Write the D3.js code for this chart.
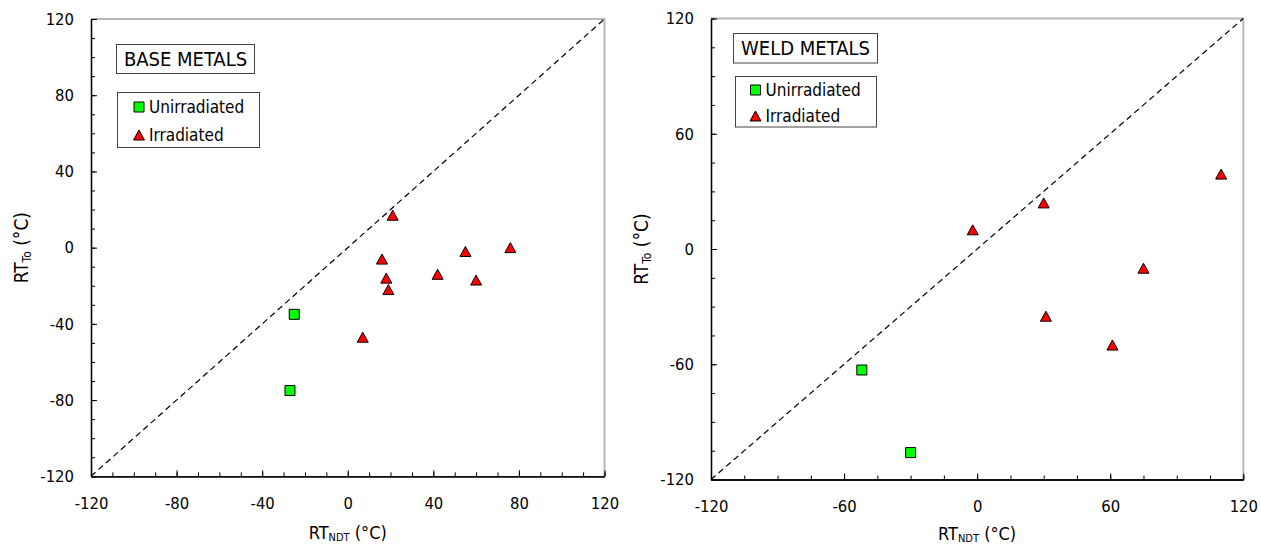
<!DOCTYPE html>
<html>
<head>
<meta charset="utf-8">
<script src="https://cdn.jsdelivr.net/npm/d3@7"></script>
<style>
  body { margin: 0; background: #fff; }
  svg { display: block; }
</style>
</head>
<body>
<div id="chart"></div>
<script>
// values (RT_NDT, RT_To) in degC
var baseUnirradiated = [[-25, -35], [-27, -75]];
var baseIrradiated = [[21, 17], [16, -6], [18, -16], [19, -22], [7, -47],
                      [42, -14], [55, -2], [60, -17], [76, 0]];
var weldUnirradiated = [[-52, -63], [-30, -106]];
var weldIrradiated = [[-2, 10], [30, 24], [110, 39], [75, -10], [31, -35], [61, -50]];

var baseTicks = [-120, -80, -40, 0, 40, 80, 120];
var weldTicks = [-120, -60, 0, 60, 120];
var legendLabels = ["Unirradiated", "Irradiated"];

var FONT = "'DejaVu Sans Condensed', 'DejaVu Sans', Verdana, sans-serif";
var width = 1261, height = 546;

var svg = d3.select("#chart").append("svg")
    .attr("width", width)
    .attr("height", height);

// excel style markers, centred on their box
var squareBox = { draw: function (ctx) { ctx.rect(-5, -5, 10, 10); } };
var triangleBox = {
    draw: function (ctx) {
        ctx.moveTo(0, -5); ctx.lineTo(5.5, 5); ctx.lineTo(-5.5, 5); ctx.closePath();
    }
};

// plain hyphen for negatives, like the original
var plain = function (d) { return String(d); };

function drawPanel(cfg) {
    var g = svg.append("g");
    var x = d3.scaleLinear().domain([-120, 120]).range([cfg.left, cfg.right]);
    var y = d3.scaleLinear().domain([-120, 120]).range([cfg.bottom, cfg.top]);
    var minor = d3.range(-120, 120.1, cfg.minorStep);

    // grey frame top / right
    g.append("path")
        .attr("d", "M" + cfg.left + "," + cfg.top + "H" + cfg.right + "V" + cfg.bottom)
        .attr("fill", "none")
        .attr("stroke", "#b8b8b8")
        .attr("stroke-width", 2);

    // 1:1 line
    g.append("line")
        .attr("x1", x(-120)).attr("y1", y(-120))
        .attr("x2", x(120)).attr("y2", y(120))
        .attr("stroke", "#000")
        .attr("stroke-width", 1.2)
        .attr("stroke-dasharray", "6,4");

    function styleAxis(sel) {
        sel.attr("font-family", FONT).attr("font-size", 16.5);
        sel.select(".domain").attr("stroke", "#000").attr("stroke-width", 1.3);
        sel.selectAll(".tick line").attr("stroke", "#000");
        sel.selectAll(".tick text").attr("fill", "#000");
    }

    g.append("g")
        .attr("transform", "translate(0," + cfg.bottom + ")")
        .call(d3.axisBottom(x).tickValues(minor).tickSize(-4).tickSizeOuter(0).tickFormat(""))
        .call(styleAxis);
    g.append("g")
        .attr("transform", "translate(0," + cfg.bottom + ")")
        .call(d3.axisBottom(x).tickValues(cfg.ticks).tickSize(-6).tickSizeOuter(0)
            .tickPadding(21).tickFormat(plain))
        .call(styleAxis);
    g.append("g")
        .attr("transform", "translate(" + cfg.left + ",0)")
        .call(d3.axisLeft(y).tickValues(minor).tickSize(-4).tickSizeOuter(0).tickFormat(""))
        .call(styleAxis);
    g.append("g")
        .attr("transform", "translate(" + cfg.left + ",0)")
        .call(d3.axisLeft(y).tickValues(cfg.ticks).tickSize(-6).tickSizeOuter(0)
            .tickPadding(17).tickFormat(plain))
        .call(styleAxis);

    // axis titles
    var xt = g.append("text")
        .attr("x", (cfg.left + cfg.right) / 2)
        .attr("y", cfg.xTitleY)
        .attr("text-anchor", "middle")
        .attr("font-family", FONT)
        .attr("font-size", 18);
    xt.append("tspan").text("RT");
    xt.append("tspan").attr("font-size", 11).attr("dy", 2).text("NDT");
    xt.append("tspan").attr("dy", -2).text(" (°C)");

    var yt = g.append("text")
        .attr("transform", "translate(" + cfg.yTitleX + "," + (cfg.top + cfg.bottom) / 2 + ") rotate(-90)")
        .attr("text-anchor", "middle")
        .attr("font-family", FONT)
        .attr("font-size", 19);
    yt.append("tspan").text("RT");
    yt.append("tspan").attr("font-size", 12).attr("dy", 3).text("To");
    yt.append("tspan").attr("dy", -3).text(" (°C)");

    // data
    g.selectAll("path.unirr")
        .data(cfg.unirr)
        .enter().append("path")
        .attr("class", "unirr")
        .attr("d", d3.symbol(squareBox))
        .attr("transform", function (d) { return "translate(" + x(d[0]) + "," + y(d[1]) + ")"; })
        .attr("fill", "#00ff00")
        .attr("stroke", "#000");
    g.selectAll("path.irr")
        .data(cfg.irr)
        .enter().append("path")
        .attr("class", "irr")
        .attr("d", d3.symbol(triangleBox))
        .attr("transform", function (d) { return "translate(" + x(d[0]) + "," + y(d[1]) + ")"; })
        .attr("fill", "#ff0000")
        .attr("stroke", "#000");

    // title box
    var tb = cfg.titleBox;
    g.append("rect")
        .attr("x", tb[0]).attr("y", tb[1]).attr("width", tb[2]).attr("height", tb[3])
        .attr("fill", "#fff").attr("stroke", "#444");
    g.append("text")
        .attr("x", tb[0] + tb[2] / 2)
        .attr("y", tb[1] + tb[3] / 2 + 7)
        .attr("text-anchor", "middle")
        .attr("font-family", FONT)
        .attr("font-size", 20)
        .text(cfg.title);

    // legend
    var lb = cfg.legendBox;
    g.append("rect")
        .attr("x", lb[0]).attr("y", lb[1]).attr("width", lb[2]).attr("height", lb[3])
        .attr("fill", "#fff").attr("stroke", "#444");
    var types = [[squareBox, "#00ff00"], [triangleBox, "#ff0000"]];
    var rows = g.selectAll("g.leg")
        .data(legendLabels)
        .enter().append("g")
        .attr("class", "leg")
        .attr("transform", function (d, i) {
            return "translate(" + cfg.legendX + "," + (cfg.legendY + i * cfg.legendStep) + ")";
        });
    rows.append("path")
        .attr("d", function (d, i) { return d3.symbol(types[i][0])(); })
        .attr("fill", function (d, i) { return types[i][1]; })
        .attr("stroke", "#000");
    rows.append("text")
        .attr("x", 10)
        .attr("y", 6)
        .attr("font-family", FONT)
        .attr("font-size", 17)
        .text(function (d) { return d; });
}

drawPanel({
    left: 91, right: 604.5, top: 19, bottom: 476.3,
    ticks: baseTicks, minorStep: 10,
    xTitleY: 539, yTitleX: 28,
    unirr: baseUnirradiated, irr: baseIrradiated,
    title: "BASE METALS",
    titleBox: [116.5, 44.5, 138, 29],
    legendBox: [117.5, 92.5, 142, 55],
    legendX: 139, legendY: 107, legendStep: 28
});

drawPanel({
    left: 711, right: 1243.3, top: 18.5, bottom: 479.5,
    ticks: weldTicks, minorStep: 15,
    xTitleY: 540, yTitleX: 648,
    unirr: weldUnirradiated, irr: weldIrradiated,
    title: "WELD METALS",
    titleBox: [733.5, 33.5, 144, 29.5],
    legendBox: [735.5, 76.5, 141, 50.5],
    legendX: 755.5, legendY: 90, legendStep: 26
});
</script>
</body>
</html>
